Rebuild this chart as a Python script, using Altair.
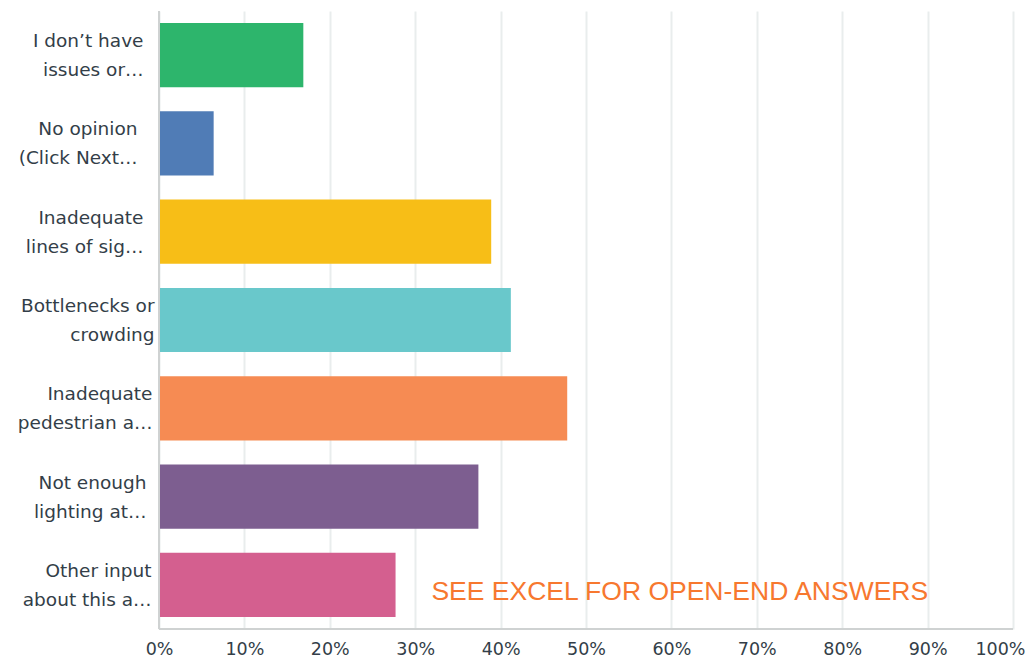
import altair as alt
import pandas as pd

labels_line1 = ["I don\u2019t have", "No opinion", "Inadequate", "Bottlenecks or",
                "Inadequate", "Not enough", "Other input"]
labels_line2 = ["issues or\u2026", "(Click Next\u2026", "lines of sig\u2026", "crowding",
                "pedestrian a\u2026", "lighting at\u2026", "about this a\u2026"]
values = [0.169, 0.064, 0.389, 0.412, 0.478, 0.374, 0.277]
colors = ["#2db56c", "#507cb6", "#f7be17", "#69c8cb", "#f68b53", "#7d5e90", "#d45f8f"]
tick_values = [i / 10 for i in range(11)]
note = "SEE EXCEL FOR OPEN-END ANSWERS"
note_x = 0.319

# label right-edge gaps (style)
label_pads = [16, 22, 16, 5, 7, 13, 8]

cats = [a + "|" + b for a, b in zip(labels_line1, labels_line2)]
df = pd.DataFrame({"cat": cats, "value": values, "color": colors})

pad_cond = {"condition": [{"test": f"datum.value === '{c}'", "value": p}
                          for c, p in zip(cats, label_pads)],
            "value": 10}

font = "DejaVu Sans"
ycat = alt.Y("cat:N", sort=cats, title=None,
             scale=alt.Scale(paddingInner=0.2727, paddingOuter=0.1364),
             axis=alt.Axis(labelExpr="split(datum.label, '|')", labelFont=font,
                           labelFontSize=18.5, labelColor="#333e48", labelLineHeight=29,
                           labelPadding=pad_cond, ticks=False, domain=False, labelLimit=200,
                           labelOffset=-14, grid=False))

bars = alt.Chart(df).mark_bar().encode(
    x=alt.X("value:Q", title=None,
            scale=alt.Scale(domain=[0, 1], nice=False),
            axis=alt.Axis(values=tick_values, format=".0%", labelFont=font,
                          labelFontSize=17.5, labelColor="#333e48", labelPadding=11,
                          labelAlign={"expr": "datum.value == 1 ? 'right' : 'center'"},
                          labelOffset={"condition": {"test": "datum.value == 1", "value": 12},
                                       "value": 0},
                          ticks=False, domain=False, gridColor="#e9eded",
                          gridWidth=2, labelFlush=False)),
    y=ycat,
    color=alt.Color("color:N", scale=None),
)

zero_line = alt.Chart(df).mark_rule(color="#cfd2d2", strokeWidth=2).encode(
    x=alt.datum(0), y=alt.value(0), y2=alt.value(618))
bottom_line = alt.Chart(df).mark_rule(color="#cfd2d2", strokeWidth=2).encode(
    x=alt.value(0), x2=alt.value(854), y=alt.value(618))

note_df = pd.DataFrame({"cat": [cats[-1]], "x": [note_x], "t": [note]})
text = alt.Chart(note_df).mark_text(align="left", baseline="middle", font="Liberation Sans",
                                    fontSize=26.5, color="#f7782f", dy=7).encode(
    x="x:Q", y=alt.Y("cat:N", sort=cats), text="t:N")

chart = alt.layer(bars, zero_line, bottom_line, text).properties(
    width=854, height=618,
    background="white",
    autosize=alt.AutoSizeParams(type="none"),
    padding={"left": 151, "top": 3, "right": 12, "bottom": 28},
).configure_view(stroke=None)

chart.save("out.html", embed_options={"renderer": "svg", "actions": False})
